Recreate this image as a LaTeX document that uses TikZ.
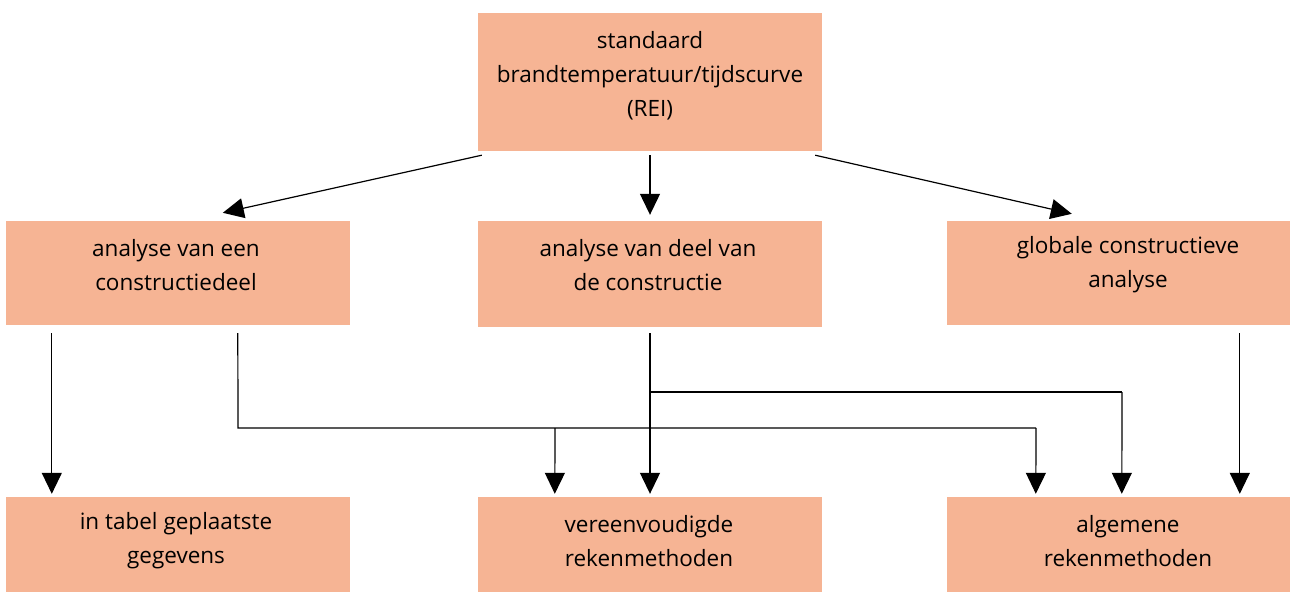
\documentclass[tikz,border=0pt]{standalone}
\usepackage{fontspec}
\setmainfont{Open Sans}
\usetikzlibrary{arrows.meta,calc}
\definecolor{boxfill}{RGB}{246,180,148}
\begin{document}
\begin{tikzpicture}[x=1pt,y=-1pt,
  box/.style={fill=boxfill,draw=none,minimum width=344pt,inner sep=0pt},
  txt/.style={align=center,inner sep=0pt,font=\fontsize{22.5}{34}\selectfont},
  arr/.style={-{Triangle[length=21pt,width=20pt]},line width=1.2pt},
  ln/.style={line width=1.2pt}]
\useasboundingbox (0,0) rectangle (1290,592);
% boxes
\node[box,minimum height=138pt] (top) at (650,82) {};
\node[box,minimum height=104pt] (ml) at (178,273) {};
\node[box,minimum height=106pt] (mc) at (650,274) {};
\node[box,minimum height=104pt,minimum width=343pt] (mr) at (1118.5,273) {};
\node[box,minimum height=95pt] (bl) at (178,544.5) {};
\node[box,minimum height=95pt] (bc) at (650,544.5) {};
\node[box,minimum height=95pt,minimum width=343pt] (br) at (1118.5,544.5) {};
% texts
\node[txt] (ttop) at (650,76) {standaard\\brandtemperatuur/tijdscurve\\(REI)};
\node[txt] (tml) at (176,265) {analyse van een\\constructiedeel};
\node[txt] (tmc) at (648,265) {analyse van deel van\\de constructie};
\node[txt] (tmr) at (1128,265) {globale constructieve\\analyse};
\node[txt] (tbl) at (176,541) {in tabel geplaatste\\gegevens};
\node[txt] (tbc) at (649,541) {vereenvoudigde\\rekenmethoden};
\node[txt] (tbr) at (1128,541) {algemene\\rekenmethoden};
% junction coordinates
\coordinate (a1) at ($(ml.south west)+(232,8)$);
\coordinate (j1) at (238,428);
\coordinate (j2) at (555,428);
\coordinate (j3) at (1036,428);
\coordinate (c1) at ($(mc.south)+(0,6)$);
\coordinate (k1) at (650,392);
\coordinate (k2) at (1122,392);
% connectors from top
\draw[arr] ($(top.south west)+(4,4)$) -- ($(ml.north west)+(217,-8)$);
\draw[arr] ($(top.south)+(0,4)$) -- ($(mc.north)+(0,-6)$);
\draw[arr] ($(top.south east)+(-7,4)$) -- ($(mr.north west)+(125,-7)$);
% connectors to bottom
\draw[arr] ($(ml.south west)+(46,8)$) -- ($(bl.north west)+(46,-3)$);
\draw[ln] (a1) -- (j1) -- (j3);
\draw[arr] (j3) -- ($(br.north west)+(89,-3)$);
\draw[arr] (j2) -- ($(bc.north west)+(77,-3)$);
\draw[arr] (c1) -- ($(bc.north)+(0,-3)$);
\draw[ln] (k1) -- (k2);
\draw[arr] (k2) -- ($(br.north west)+(175,-3)$);
\draw[arr] ($(mr.south west)+(293,8)$) -- ($(br.north west)+(293,-3)$);
\end{tikzpicture}
\end{document}
